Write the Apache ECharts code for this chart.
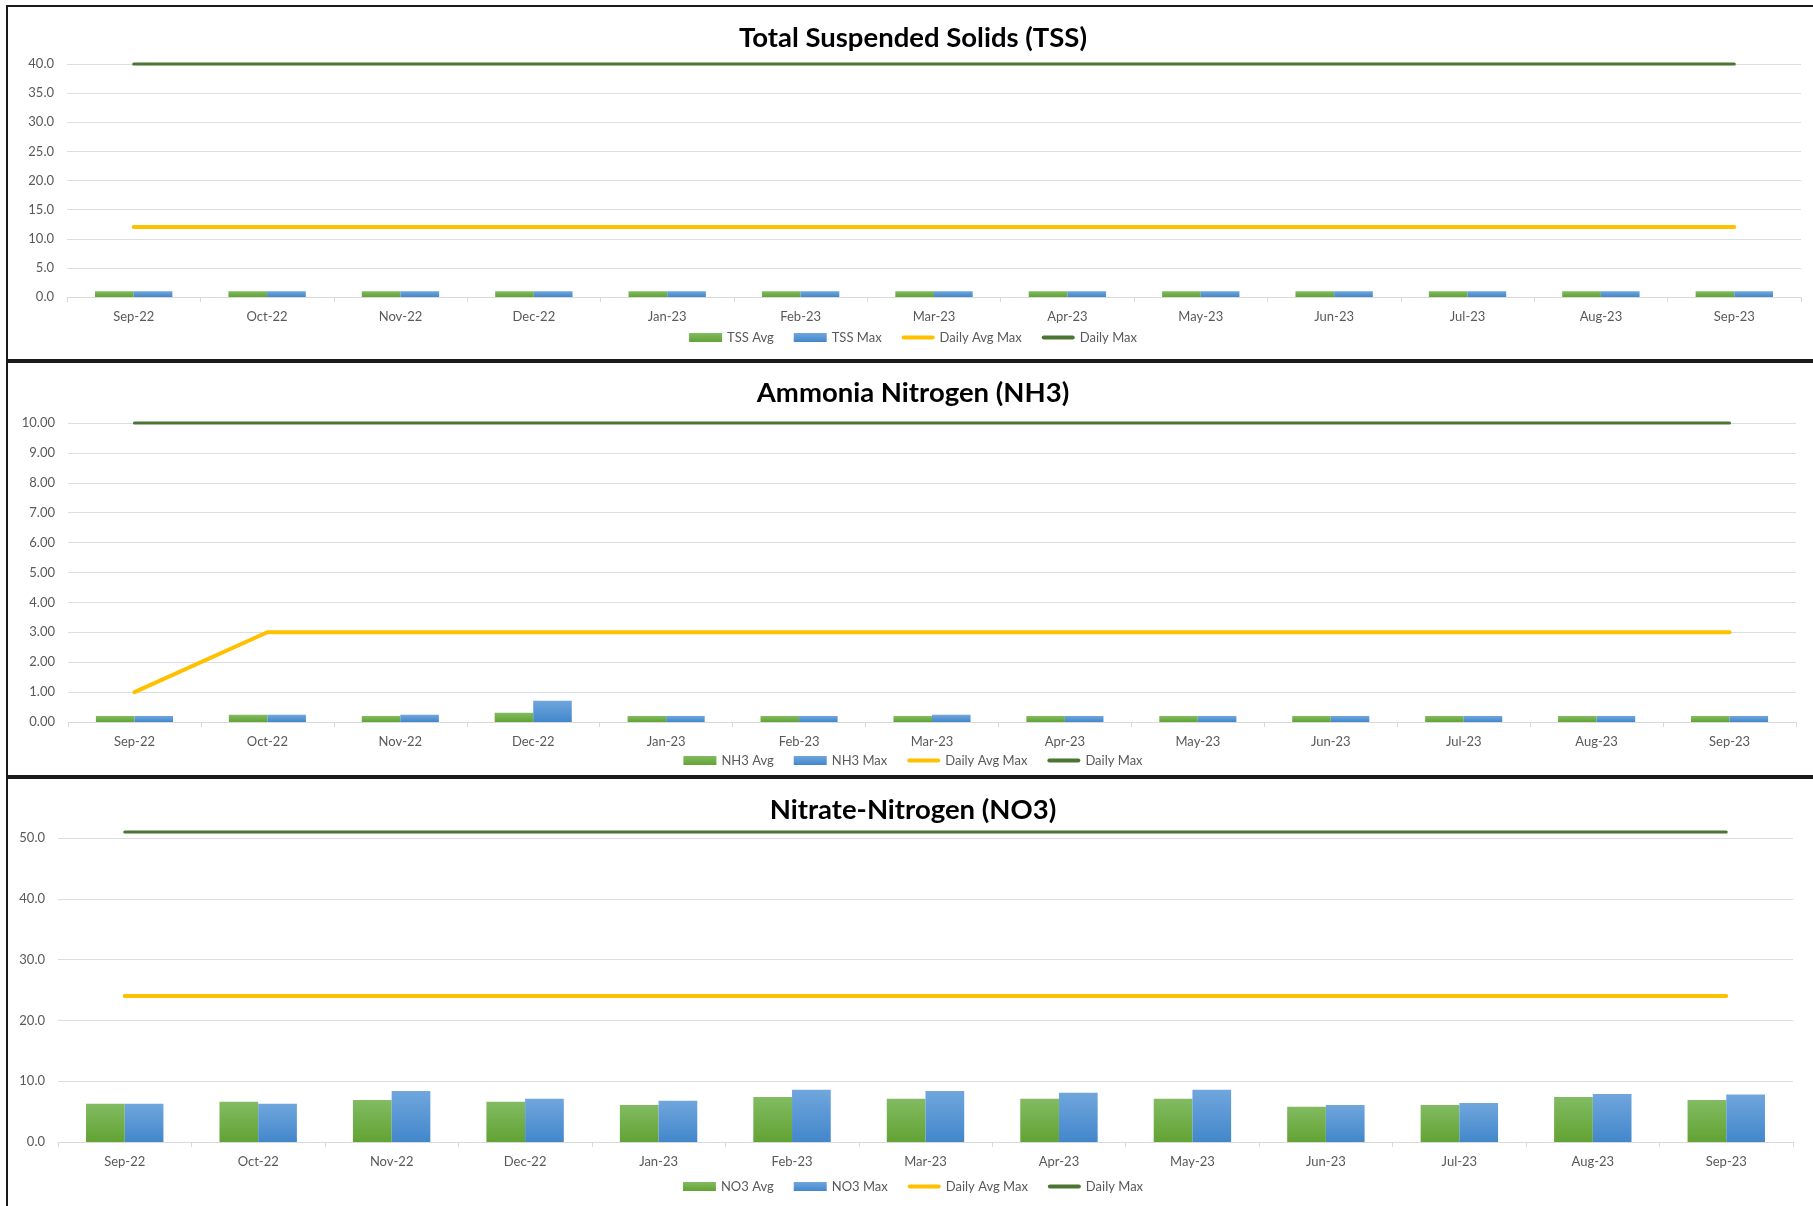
<!DOCTYPE html>
<html>
<head>
<meta charset="utf-8">
<script src="https://cdn.jsdelivr.net/npm/echarts@6/dist/echarts.min.js"></script>
<style>
  html, body { margin: 0; padding: 0; background: #fff; overflow: hidden; }
  #chart { position: absolute; left: 0; top: 0; width: 1826px; height: 1206px; }
</style>
</head>
<body>
<div id="chart"></div>
<script>
const categories = ['Sep-22','Oct-22','Nov-22','Dec-22','Jan-23','Feb-23','Mar-23','Apr-23','May-23','Jun-23','Jul-23','Aug-23','Sep-23'];

const tssAvg         = [1.0, 1.0, 1.0, 1.0, 1.0, 1.0, 1.0, 1.0, 1.0, 1.0, 1.0, 1.0, 1.0];
const tssMax         = [1.0, 1.0, 1.0, 1.0, 1.0, 1.0, 1.0, 1.0, 1.0, 1.0, 1.0, 1.0, 1.0];
const tssDailyAvgMax = [12, 12, 12, 12, 12, 12, 12, 12, 12, 12, 12, 12, 12];
const tssDailyMax    = [40, 40, 40, 40, 40, 40, 40, 40, 40, 40, 40, 40, 40];

const nh3Avg         = [0.20, 0.24, 0.20, 0.31, 0.20, 0.20, 0.20, 0.20, 0.20, 0.20, 0.20, 0.20, 0.20];
const nh3Max         = [0.20, 0.24, 0.24, 0.71, 0.20, 0.20, 0.24, 0.20, 0.20, 0.20, 0.20, 0.20, 0.20];
const nh3DailyAvgMax = [1, 3, 3, 3, 3, 3, 3, 3, 3, 3, 3, 3, 3];
const nh3DailyMax    = [10, 10, 10, 10, 10, 10, 10, 10, 10, 10, 10, 10, 10];

const no3Avg         = [6.3, 6.6, 6.9, 6.6, 6.1, 7.4, 7.1, 7.1, 7.1, 5.8, 6.1, 7.4, 6.9];
const no3Max         = [6.3, 6.3, 8.4, 7.1, 6.8, 8.6, 8.4, 8.1, 8.6, 6.1, 6.4, 7.9, 7.8];
const no3DailyAvgMax = [24, 24, 24, 24, 24, 24, 24, 24, 24, 24, 24, 24, 24];
const no3DailyMax    = [51, 51, 51, 51, 51, 51, 51, 51, 51, 51, 51, 51, 51];

const titles = ['Total Suspended Solids (TSS)', 'Ammonia Nitrogen (NH3)', 'Nitrate-Nitrogen (NO3)'];

const FONT = 'Lato, "Open Sans", sans-serif';
const TXT = '#595959';
const GRIDC = '#dadde3';
const YELLOW = '#FFC000';
const DKGREEN = '#4b7530';
const LINE_ICON = 'path://M2,0 L31,0 A2,2 0 0 1 31,4 L2,4 A2,2 0 0 1 2,0 Z';

const greenGrad = new echarts.graphic.LinearGradient(0, 0, 0, 1, [
  { offset: 0, color: '#82bb62' }, { offset: 1, color: '#62a333' }
]);
const blueGrad = new echarts.graphic.LinearGradient(0, 0, 0, 1, [
  { offset: 0, color: '#70a6dd' }, { offset: 1, color: '#4287cb' }
]);

const grids = [
  { left: 67, right: 25, top: 64, height: 233 },
  { left: 68, right: 30, top: 423, height: 299 },
  { left: 58, right: 33, top: 838, height: 304 }
];
const titleTops = [23, 378, 795];
const legendTops = [331, 754, 1180];
const yAxes = [
  { max: 40, interval: 5, dec: 1 },
  { max: 10, interval: 1, dec: 2 },
  { max: 50, interval: 10, dec: 1 }
];
const seriesSets = [
  { avgName: 'TSS Avg', maxName: 'TSS Max', avg: tssAvg, mx: tssMax, dam: tssDailyAvgMax, dm: tssDailyMax },
  { avgName: 'NH3 Avg', maxName: 'NH3 Max', avg: nh3Avg, mx: nh3Max, dam: nh3DailyAvgMax, dm: nh3DailyMax },
  { avgName: 'NO3 Avg', maxName: 'NO3 Max', avg: no3Avg, mx: no3Max, dam: no3DailyAvgMax, dm: no3DailyMax }
];

const option = {
  backgroundColor: '#fff',
  animation: false,
  title: titles.map((t, i) => ({
    text: t, left: 913, textAlign: 'center', top: titleTops[i], padding: 0,
    textStyle: { fontFamily: FONT, fontWeight: 'bold', fontSize: 27.5, lineHeight: 30, color: '#000' }
  })),
  grid: grids,
  xAxis: grids.map((g, i) => ({
    type: 'category', gridIndex: i, data: categories, boundaryGap: true,
    axisLine: { lineStyle: { color: '#d9d9d9', width: 1 } },
    axisTick: { show: true, length: 5, lineStyle: { color: '#d9d9d9' } },
    axisLabel: { color: TXT, fontFamily: FONT, fontSize: 13, margin: 13 },
    splitLine: { show: false }
  })),
  yAxis: yAxes.map((y, i) => ({
    type: 'value', gridIndex: i, min: 0, max: y.max, interval: y.interval,
    axisLine: { show: false }, axisTick: { show: false },
    axisLabel: { color: TXT, fontFamily: FONT, fontSize: 13, margin: 13,
      formatter: v => v.toFixed(y.dec) },
    splitLine: { lineStyle: { color: GRIDC, width: 1 } }
  })),
  legend: seriesSets.map((s, i) => ({
    top: legendTops[i], left: 'center', padding: 0, itemGap: 20,
    itemWidth: 33, itemHeight: 9,
    textStyle: { color: TXT, fontFamily: FONT, fontSize: 13 },
    data: [
      { name: s.avgName, icon: 'rect' },
      { name: s.maxName, icon: 'rect' },
      { name: 'Daily Avg Max', icon: LINE_ICON },
      { name: 'Daily Max', icon: LINE_ICON }
    ]
  })),
  series: [],
  graphic: [
    { type: 'rect', shape: { x: 7, y: 6, width: 1830, height: 354 }, style: { fill: 'none', stroke: '#1a1a1a', lineWidth: 2 }, silent: true },
    { type: 'rect', shape: { x: 7, y: 362, width: 1830, height: 414 }, style: { fill: 'none', stroke: '#1a1a1a', lineWidth: 2 }, silent: true },
    { type: 'rect', shape: { x: 7, y: 778, width: 1830, height: 460 }, style: { fill: 'none', stroke: '#1a1a1a', lineWidth: 2 }, silent: true }
  ]
};

seriesSets.forEach((s, i) => {
  option.series.push(
    { name: s.avgName, type: 'bar', xAxisIndex: i, yAxisIndex: i, data: s.avg,
      barGap: '0%', barCategoryGap: '42%', itemStyle: { color: greenGrad } },
    { name: s.maxName, type: 'bar', xAxisIndex: i, yAxisIndex: i, data: s.mx,
      barGap: '0%', barCategoryGap: '42%', itemStyle: { color: blueGrad } },
    { name: 'Daily Avg Max', type: 'line', xAxisIndex: i, yAxisIndex: i, data: s.dam,
      symbol: 'none', showSymbol: false, clip: false, color: YELLOW,
      lineStyle: { color: YELLOW, width: 4, cap: 'round' }, itemStyle: { color: YELLOW } },
    { name: 'Daily Max', type: 'line', xAxisIndex: i, yAxisIndex: i, data: s.dm,
      symbol: 'none', showSymbol: false, clip: false, color: DKGREEN,
      lineStyle: { color: DKGREEN, width: 3, cap: 'round' }, itemStyle: { color: DKGREEN } }
  );
});

const chart = echarts.init(document.getElementById('chart'), null, { renderer: 'canvas' });
chart.setOption(option);
</script>
</body>
</html>
